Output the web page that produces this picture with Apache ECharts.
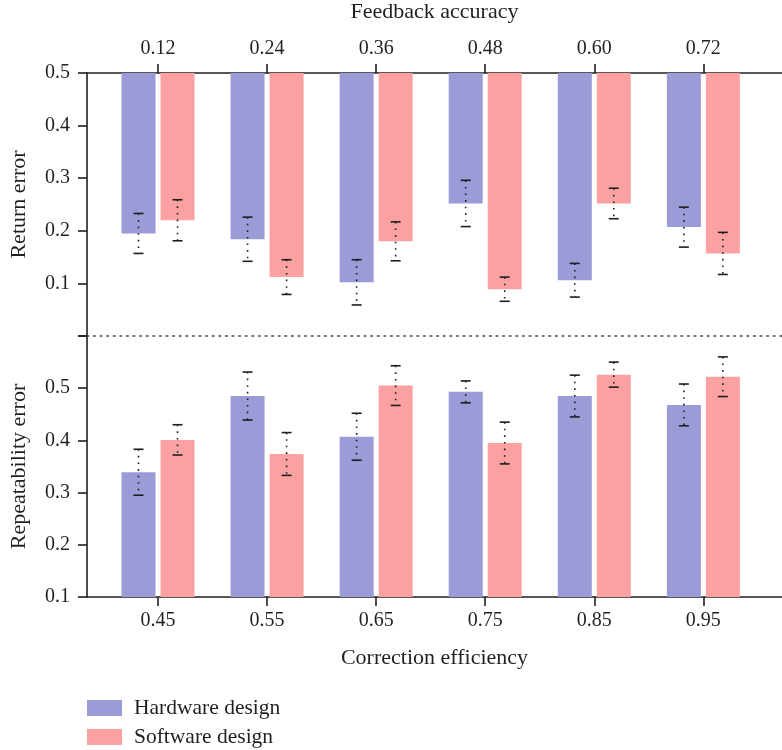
<!DOCTYPE html>
<html>
<head>
<meta charset="utf-8">
<title>Return and repeatability error</title>
<script src="https://cdn.jsdelivr.net/npm/echarts@6/dist/echarts.min.js"></script>
<style>
  html, body { margin: 0; padding: 0; background: #fff; }
  #chart { width: 782px; height: 750px; }
</style>
</head>
<body>
<div id="chart"></div>
<script>
// Tick labels for the two horizontal axes (one group per position index)
const feedbackLabels = ['0.12', '0.24', '0.36', '0.48', '0.60', '0.72'];
const efficiencyLabels = ['0.45', '0.55', '0.65', '0.75', '0.85', '0.95'];
const groupIndex = [0, 1, 2, 3, 4, 5];

// Return error (upper panel), bars hang from 0.5 down to the value
const returnHardware = [0.195, 0.184, 0.102, 0.252, 0.106, 0.207];
const returnHardwareErr = [0.038, 0.042, 0.043, 0.044, 0.032, 0.038];
const returnSoftware = [0.220, 0.112, 0.180, 0.089, 0.252, 0.157];
const returnSoftwareErr = [0.039, 0.033, 0.037, 0.023, 0.029, 0.040];

// Repeatability error (lower panel), bars rise from 0.1 up to the value
const repeatHardware = [0.339, 0.485, 0.407, 0.493, 0.485, 0.468];
const repeatHardwareErr = [0.044, 0.046, 0.045, 0.021, 0.040, 0.040];
const repeatSoftware = [0.401, 0.374, 0.505, 0.395, 0.526, 0.522];
const repeatSoftwareErr = [0.029, 0.041, 0.038, 0.040, 0.024, 0.038];

const HW_COLOR = '#9b9bd8';
const SW_COLOR = '#fba1a1';
const TEXT = '#231f20';
const FONT = 'Liberation Serif';
const BAR_W = 34;
const BAR_SHIFT = 19.5;

function rows(values, errs) {
  return groupIndex.map(i => [i, values[i], errs[i]]);
}

function barSeries(name, axisIdx, values, errs, base, shift, color) {
  return {
    name: name,
    type: 'custom',
    xAxisIndex: axisIdx,
    yAxisIndex: axisIdx,
    itemStyle: { color: color },
    data: rows(values, errs),
    encode: { x: 0, y: 1 },
    renderItem: function (params, api) {
      const i = api.value(0);
      const v = api.value(1);
      const pv = api.coord([i, v]);
      const pb = api.coord([i, base]);
      const x = pv[0] + shift - BAR_W / 2;
      return {
        type: 'rect',
        shape: { x: x, y: Math.min(pv[1], pb[1]), width: BAR_W, height: Math.abs(pv[1] - pb[1]) },
        style: { fill: api.visual('color') }
      };
    },
    z: 2
  };
}

function errorSeries(name, axisIdx, values, errs, shift) {
  return {
    name: name + ' error',
    type: 'custom',
    xAxisIndex: axisIdx,
    yAxisIndex: axisIdx,
    data: rows(values, errs),
    encode: { x: 0, y: 1 },
    renderItem: function (params, api) {
      const i = api.value(0);
      const v = api.value(1);
      const e = api.value(2);
      const x = api.coord([i, v])[0] + shift;
      const yHi = api.coord([i, v + e])[1];
      const yLo = api.coord([i, v - e])[1];
      const capStyle = { stroke: '#1e1e1e', lineWidth: 1.6 };
      return {
        type: 'group',
        children: [
          { type: 'line', shape: { x1: x, y1: yHi, x2: x, y2: yLo },
            style: { stroke: '#1e1e1e', lineWidth: 1.6, lineDash: [1.6, 5] } },
          { type: 'line', shape: { x1: x - 5, y1: yHi, x2: x + 5, y2: yHi }, style: capStyle },
          { type: 'line', shape: { x1: x - 5, y1: yLo, x2: x + 5, y2: yLo }, style: capStyle }
        ]
      };
    },
    z: 3
  };
}

const axisLineStyle = { color: TEXT, width: 1.6 };
const labelStyle = { color: TEXT, fontFamily: FONT, fontSize: 20 };
const nameStyle = { color: TEXT, fontFamily: FONT, fontSize: 22 };
const legendText = { color: TEXT, fontFamily: FONT, fontSize: 21.5, padding: [0, 0, 0, 7] };

const X_MIN = -0.651;
const X_MAX = 5.721;

const chart = echarts.init(document.getElementById('chart'), null, { renderer: 'canvas' });

chart.setOption({
  animation: false,
  backgroundColor: '#fff',
  grid: [
    { left: 87, right: 0, top: 73, height: 263 },
    { left: 87, right: 0, top: 336, height: 261 }
  ],
  legend: [
    {
      left: 87, top: 697, padding: 0, icon: 'rect', itemWidth: 35, itemHeight: 16,
      data: ['Hardware design'], textStyle: legendText
    },
    {
      left: 87, top: 726, padding: 0, icon: 'rect', itemWidth: 35, itemHeight: 16,
      data: ['Software design'], textStyle: legendText
    }
  ],
  xAxis: [
    {
      gridIndex: 0, type: 'value', position: 'top', min: X_MIN, max: X_MAX,
      name: 'Feedback accuracy', nameLocation: 'middle', nameGap: 50, nameTextStyle: nameStyle,
      axisLine: { show: true, onZero: false, lineStyle: axisLineStyle },
      axisTick: { show: true, length: 9, lineStyle: axisLineStyle, customValues: groupIndex },
      axisLabel: { show: true, margin: 14, ...labelStyle, customValues: groupIndex,
        formatter: v => feedbackLabels[Math.round(v)] },
      splitLine: { show: false }
    },
    {
      gridIndex: 1, type: 'value', position: 'bottom', min: X_MIN, max: X_MAX,
      name: 'Correction efficiency', nameLocation: 'middle', nameGap: 50, nameTextStyle: nameStyle,
      axisLine: { show: true, onZero: false, lineStyle: axisLineStyle },
      axisTick: { show: true, length: 9, lineStyle: axisLineStyle, customValues: groupIndex },
      axisLabel: { show: true, margin: 14, ...labelStyle, customValues: groupIndex,
        formatter: v => efficiencyLabels[Math.round(v)] },
      splitLine: { show: false }
    },
    {
      // dotted divider along the foot of the upper panel
      gridIndex: 0, type: 'value', position: 'bottom', min: X_MIN, max: X_MAX,
      axisLine: { show: true, onZero: false, lineStyle: { color: '#444', width: 1.6, type: [1.6, 5] } },
      axisTick: { show: false },
      axisLabel: { show: false },
      splitLine: { show: false }
    }
  ],
  yAxis: [
    {
      gridIndex: 0, type: 'value', min: 0, max: 0.5, interval: 0.1,
      name: 'Return error', nameLocation: 'middle', nameGap: 57, nameTextStyle: nameStyle,
      axisLine: { show: true, onZero: false, lineStyle: axisLineStyle },
      axisTick: { show: true, length: 9, lineStyle: axisLineStyle },
      axisLabel: { margin: 17, ...labelStyle,
        formatter: v => (Math.abs(v) < 1e-9 ? '' : v.toFixed(1)) },
      splitLine: { show: false }
    },
    {
      gridIndex: 1, type: 'value', min: 0.1, max: 0.6, interval: 0.1,
      name: 'Repeatability error', nameLocation: 'middle', nameGap: 57, nameTextStyle: nameStyle,
      axisLine: { show: true, onZero: false, lineStyle: axisLineStyle },
      axisTick: { show: true, length: 9, lineStyle: axisLineStyle },
      axisLabel: { margin: 17, ...labelStyle,
        formatter: v => (Math.abs(v - 0.6) < 1e-9 ? '' : v.toFixed(1)) },
      splitLine: { show: false }
    }
  ],
  series: [
    barSeries('Hardware design', 0, returnHardware, returnHardwareErr, 0.5, -BAR_SHIFT, HW_COLOR),
    barSeries('Software design', 0, returnSoftware, returnSoftwareErr, 0.5, BAR_SHIFT, SW_COLOR),
    barSeries('Hardware design', 1, repeatHardware, repeatHardwareErr, 0.1, -BAR_SHIFT, HW_COLOR),
    barSeries('Software design', 1, repeatSoftware, repeatSoftwareErr, 0.1, BAR_SHIFT, SW_COLOR),
    errorSeries('Hardware design', 0, returnHardware, returnHardwareErr, -BAR_SHIFT),
    errorSeries('Software design', 0, returnSoftware, returnSoftwareErr, BAR_SHIFT),
    errorSeries('Hardware design', 1, repeatHardware, repeatHardwareErr, -BAR_SHIFT),
    errorSeries('Software design', 1, repeatSoftware, repeatSoftwareErr, BAR_SHIFT)
  ]
});
</script>
</body>
</html>
